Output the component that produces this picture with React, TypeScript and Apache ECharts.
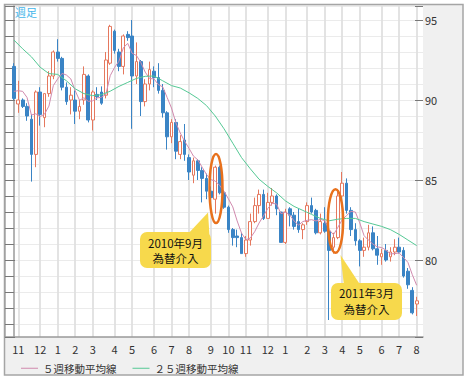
import React, { useEffect, useRef } from "react";
import * as echarts from "echarts";

// first week shown (Monday)
const START_DATE = "2009-10-26";

// weekly USD/JPY candles: [open, close, low, high]
const ohlc: number[][] = [
  [92.1, 90.1, 90.0, 92.3],
  [89.75, 90.0, 89.2, 91.2],
  [90.0, 89.6, 89.5, 90.1],
  [89.6, 89.0, 88.7, 89.8],
  [88.8, 86.6, 84.9, 89.1],
  [86.6, 90.5, 85.8, 90.6],
  [90.5, 89.1, 88.4, 90.8],
  [88.9, 90.4, 88.3, 90.4],
  [90.4, 91.5, 90.2, 91.8],
  [91.5, 93.0, 91.3, 93.1],
  [93.0, 92.6, 92.4, 93.8],
  [92.6, 90.8, 90.6, 92.7],
  [90.8, 89.9, 89.7, 91.1],
  [90.0, 90.3, 89.1, 90.8],
  [90.0, 89.3, 88.5, 90.6],
  [89.3, 89.6, 88.8, 90.0],
  [90.0, 91.6, 89.7, 92.1],
  [91.5, 88.75, 88.6, 91.6],
  [88.75, 90.5, 88.1, 90.6],
  [90.35, 90.2, 90.0, 90.8],
  [90.5, 89.8, 89.7, 90.85],
  [90.3, 92.5, 90.1, 93.0],
  [92.3, 94.6, 92.2, 94.7],
  [94.3, 93.1, 92.9, 94.4],
  [93.0, 92.1, 91.8, 93.2],
  [92.1, 94.0, 91.6, 94.1],
  [94.1, 93.9, 93.7, 94.3],
  [94.0, 91.5, 88.2, 95.0],
  [91.5, 92.4, 91.0, 93.6],
  [92.4, 89.9, 89.0, 92.5],
  [89.9, 91.0, 89.6, 91.3],
  [91.0, 91.9, 90.6, 92.4],
  [91.8, 91.4, 90.8, 92.1],
  [91.4, 90.6, 90.4, 92.3],
  [90.6, 89.2, 88.9, 91.0],
  [89.2, 87.7, 86.9, 89.3],
  [87.7, 88.6, 87.3, 88.8],
  [88.6, 86.8, 86.3, 88.8],
  [86.6, 87.4, 86.3, 87.8],
  [87.5, 86.6, 86.2, 88.5],
  [86.4, 85.5, 85.0, 86.6],
  [85.3, 86.2, 84.8, 86.4],
  [86.2, 85.6, 85.0, 86.3],
  [85.6, 85.1, 83.6, 85.8],
  [85.1, 84.3, 83.8, 85.4],
  [84.3, 83.9, 83.3, 84.6],
  [83.8, 85.8, 82.9, 85.9],
  [85.8, 84.2, 84.1, 85.9],
  [84.2, 83.3, 83.2, 84.3],
  [83.3, 81.9, 81.7, 83.4],
  [81.9, 81.4, 80.9, 82.0],
  [81.5, 81.4, 80.8, 81.9],
  [81.4, 80.4, 80.4, 81.7],
  [80.4, 81.25, 80.2, 81.5],
  [81.25, 82.4, 80.9, 82.9],
  [82.4, 83.4, 82.3, 83.9],
  [83.4, 84.1, 82.9, 84.4],
  [84.1, 82.6, 82.5, 84.4],
  [82.6, 83.6, 82.6, 84.2],
  [83.6, 84.0, 83.4, 84.5],
  [84.0, 83.2, 82.8, 84.1],
  [83.0, 81.1, 81.1, 83.0],
  [81.1, 83.0, 81.0, 83.2],
  [83.2, 82.8, 82.1, 83.3],
  [82.8, 82.1, 81.9, 83.0],
  [82.4, 81.9, 81.7, 83.2],
  [81.9, 82.2, 81.3, 82.3],
  [82.4, 83.4, 82.2, 83.6],
  [83.4, 83.0, 82.9, 83.9],
  [83.1, 81.7, 81.6, 83.2],
  [81.7, 82.4, 81.6, 82.9],
  [82.3, 81.8, 81.7, 83.3],
  [81.8, 80.6, 76.25, 81.9],
  [80.8, 81.4, 80.4, 81.7],
  [81.4, 84.0, 81.3, 84.4],
  [84.0, 84.8, 83.8, 85.5],
  [84.8, 83.1, 82.9, 85.1],
  [83.1, 81.9, 81.5, 83.3],
  [81.9, 81.2, 80.9, 82.3],
  [81.2, 80.6, 79.6, 81.3],
  [80.6, 80.8, 80.2, 81.4],
  [80.8, 81.7, 80.6, 82.2],
  [81.7, 80.7, 80.6, 82.1],
  [80.7, 80.3, 79.7, 81.5],
  [80.2, 80.4, 79.7, 80.7],
  [80.6, 80.0, 79.9, 81.0],
  [80.2, 80.5, 79.9, 80.8],
  [80.5, 80.8, 80.3, 81.3],
  [80.8, 80.5, 80.4, 81.4],
  [80.6, 79.0, 78.9, 80.8],
  [79.3, 78.45, 78.2, 79.5],
  [78.1, 76.7, 76.6, 78.3],
  [77.25, 77.45, 76.5, 77.7],
];

// four weekly closes before the first candle (for the 5-week average)
const closesBefore = [89.8, 89.8, 90.9, 92.1];

// 25-week moving average: [week index, value]
const ma25: number[][] = [
  [0, 93.75], [2, 93.2], [4, 92.7], [6, 92.05], [8, 91.65], [10, 91.6],
  [12, 91.2], [14, 90.7], [16, 90.4], [18, 90.27], [20, 90.33], [22, 90.55],
  [24, 90.85], [26, 91.1], [28, 91.35], [30, 91.48], [32, 91.5], [34, 91.2],
  [36, 90.9], [38, 90.75], [40, 90.45], [42, 90.1], [44, 89.65], [46, 89.0],
  [48, 88.2], [50, 87.3], [52, 86.4], [54, 85.7], [56, 85.05], [58, 84.6],
  [60, 84.2], [62, 83.7], [64, 83.35], [66, 83.1], [68, 82.85], [70, 82.6],
  [72, 82.45], [74, 82.55], [76, 82.6], [78, 82.6], [80, 82.4], [82, 82.25],
  [84, 82.1], [86, 81.9], [88, 81.6], [90, 81.25], [92, 80.9],
];

const Y_MIN = 75.1875;
const Y_MAX = 95.875;
const X_MIN = -2.033;
const X_MAX = 93.45;

const NAME_MA5 = "５週移動平均線";
const NAME_MA25 = "２５週移動平均線";

const UP = "#e5785e";
const DOWN = "#3a84c5";
const MA5_COLOR = "#d18aae";
const MA25_COLOR = "#55c995";
const FONT = "'Noto Sans CJK JP', 'Noto Sans', sans-serif";

function weekDates(): Date[] {
  const d0 = new Date(START_DATE + "T00:00:00Z");
  return ohlc.map((_, i) => new Date(d0.getTime() + i * 7 * 86400000));
}

export default function App() {
  const ref = useRef<HTMLDivElement>(null);

  useEffect(() => {
    document.body.style.margin = "0";
    if (!ref.current) return;
    const chart = echarts.init(ref.current, undefined, { renderer: "svg" });

    const dates = weekDates();
    const monthIdx: number[] = [];
    dates.forEach((d, i) => {
      if (i > 0 && d.getUTCMonth() !== dates[i - 1].getUTCMonth()) monthIdx.push(i);
    });

    const allCloses = closesBefore.concat(ohlc.map((d) => d[1]));
    const ma5 = ohlc.map((_, i) => {
      const j = i + closesBefore.length;
      let s = 0;
      for (let k = j - 4; k <= j; k++) s += allCloses[k];
      return [i, +(s / 5).toFixed(3)];
    });

    const isMajor = (v: number) => Math.abs(v - Math.round(v / 5) * 5) < 1e-6;

    const yCommon = {
      type: "value",
      min: Y_MIN,
      max: Y_MAX,
    };

    const calloutText = (text: string, x: number, y: number) => ({
      type: "text",
      z: 52,
      style: {
        text,
        x,
        y,
        align: "center",
        verticalAlign: "middle",
        fontSize: 11.5,
        fill: "#111",
        fontFamily: FONT,
      },
    });

    chart.setOption({
      animation: false,
      backgroundColor: "#ffffff",
      title: {
        text: "週足",
        left: 15,
        top: 6,
        padding: 0,
        textStyle: { fontSize: 11, color: "#45b6ea", fontWeight: "normal", fontFamily: FONT },
      },
      legend: {
        left: 16,
        top: 358,
        itemWidth: 17,
        itemHeight: 1,
        itemGap: 16,
        icon: "rect",
        data: [NAME_MA5, NAME_MA25],
        textStyle: { fontSize: 10.5, color: "#333", fontFamily: FONT },
      },
      grid: {
        left: 5,
        right: 45,
        top: 6,
        bottom: 45,
        show: true,
        backgroundColor: "#ffffff",
        borderWidth: 0,
      },
      xAxis: {
        type: "value",
        min: X_MIN,
        max: X_MAX,
        axisLine: { show: true, lineStyle: { color: "#9a9a9a", width: 1.5 } },
        axisTick: { show: false, customValues: monthIdx },
        axisLabel: {
          customValues: monthIdx,
          formatter: (v: number) => String(dates[Math.round(v)].getUTCMonth() + 1),
          fontSize: 11,
          color: "#333",
          margin: 6,
          fontFamily: FONT,
        },
        splitLine: { show: true, lineStyle: { color: "#e0e0e0", width: 1.8 } },
      },
      yAxis: [
        {
          ...yCommon,
          position: "right",
          minInterval: 1,
          maxInterval: 1,
          axisLine: { show: true, lineStyle: { color: "#9a9a9a", width: 1.5 } },
          axisTick: { show: true, inside: true, length: 5, lineStyle: { color: "#777" } },
          axisLabel: { show: false },
          splitLine: { show: true, lineStyle: { color: "#ebebeb", width: 1 } },
        },
        {
          ...yCommon,
          position: "right",
          minInterval: 5,
          maxInterval: 5,
          axisLine: { show: false },
          axisTick: { show: true, inside: true, length: 8, lineStyle: { color: "#777" } },
          axisLabel: {
            show: true,
            margin: 2,
            fontSize: 11,
            color: "#333",
            fontFamily: FONT,
            formatter: (v: number) => (isMajor(v) ? String(Math.round(v)) : ""),
          },
          splitLine: { show: false },
        },
        {
          ...yCommon,
          position: "left",
          minInterval: 1,
          maxInterval: 1,
          axisLine: { show: true, lineStyle: { color: "#a0a0a0", width: 1.5 } },
          axisTick: { show: true, inside: true, length: 7, lineStyle: { color: "#777" } },
          axisLabel: { show: false },
          splitLine: { show: false },
        },
        {
          ...yCommon,
          position: "left",
          minInterval: 5,
          maxInterval: 5,
          axisLine: { show: false },
          axisTick: { show: true, inside: true, length: 10, lineStyle: { color: "#777" } },
          axisLabel: { show: false },
          splitLine: { show: false },
        },
      ],
      series: [
        {
          type: "candlestick",
          yAxisIndex: 0,
          barWidth: 3.2,
          data: ohlc.map((d, i) => [i, d[0], d[1], d[2], d[3]]),
          itemStyle: {
            color: "#ffffff",
            color0: DOWN,
            borderColor: UP,
            borderColor0: DOWN,
            borderWidth: 1,
          },
        },
        {
          name: NAME_MA5,
          type: "line",
          yAxisIndex: 0,
          data: ma5,
          symbol: "none",
          lineStyle: { color: MA5_COLOR, width: 1 },
          itemStyle: { color: MA5_COLOR },
        },
        {
          name: NAME_MA25,
          type: "line",
          yAxisIndex: 0,
          data: ma25,
          symbol: "none",
          lineStyle: { color: MA25_COLOR, width: 1 },
          itemStyle: { color: MA25_COLOR },
        },
      ],
      graphic: [
        {
          type: "rect",
          z: -10,
          shape: { x: 4.5, y: 4.5, width: 458.5, height: 370.5 },
          style: { fill: "#f0f0f0", stroke: "#a5a5a5", lineWidth: 1.5 },
        },
        {
          type: "ellipse",
          z: 50,
          shape: { cx: 216, cy: 188.5, rx: 6.5, ry: 34.5 },
          style: { fill: "none", stroke: "#e8711c", lineWidth: 2.5 },
        },
        {
          type: "ellipse",
          z: 50,
          shape: { cx: 335.5, cy: 221, rx: 7.6, ry: 31.8 },
          style: { fill: "none", stroke: "#e8711c", lineWidth: 2.5 },
        },
        {
          type: "polygon",
          z: 51,
          shape: { points: [[208, 212.5], [186, 236], [209.5, 236]] },
          style: { fill: "#f7d94c" },
        },
        {
          type: "rect",
          z: 51,
          shape: { x: 140, y: 232, width: 71, height: 36, r: 7 },
          style: { fill: "#f7d94c" },
        },
        calloutText("2010年9月", 175.5, 242.5),
        calloutText("為替介入", 175.5, 258),
        {
          type: "polygon",
          z: 51,
          shape: { points: [[340.5, 255], [344, 286], [361, 286]] },
          style: { fill: "#f7d94c" },
        },
        {
          type: "rect",
          z: 51,
          shape: { x: 331, y: 283, width: 71, height: 37, r: 7 },
          style: { fill: "#f7d94c" },
        },
        calloutText("2011年3月", 366.5, 293),
        calloutText("為替介入", 366.5, 308.5),
      ],
    });

    return () => chart.dispose();
  }, []);

  return <div ref={ref} style={{ width: 468, height: 382 }} />;
}
